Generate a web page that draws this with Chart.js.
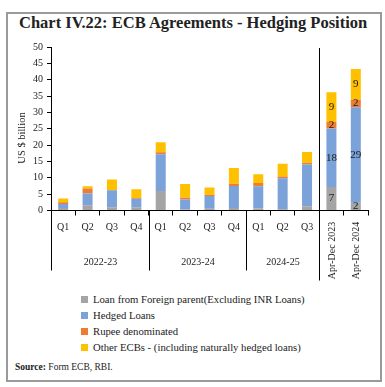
<!DOCTYPE html>
<html lang="en">
<head>
<meta charset="UTF-8">
<title>Chart IV.22: ECB Agreements - Hedging Position</title>
<script src="https://cdn.jsdelivr.net/npm/chart.js"></script>
<style>
    body {
        margin: 0;
        width: 385px;
        height: 387px;
        position: relative;
        background: #fff;
        font-family: "Liberation Serif", serif;
        color: #222;
    }
    #frame {
        position: absolute;
        left: 6px; top: 12px;
        width: 372px; height: 366px;
        border: 2px solid #9a9a9a;
    }
    #title {
        position: absolute;
        left: 19px; top: 13px;
        font-size: 16.5px;
        font-weight: bold;
        white-space: nowrap;
    }
    #chartBox {
        position: absolute;
        left: 0; top: 0;
        width: 385px; height: 290px;
    }
    #legend {
        position: absolute;
        left: 81px; top: 291px;
        font-size: 10.7px;
    }
    #legend div {
        height: 16px;
        line-height: 16px;
        white-space: nowrap;
    }
    #legend span {
        display: inline-block;
        width: 7px; height: 7px;
        margin-right: 5px;
        vertical-align: 0px;
    }
    #source {
        position: absolute;
        left: 15px; top: 362px;
        font-size: 9.5px;
    }
</style>
</head>
<body>
<div id="frame"></div>
<div id="title">Chart IV.22: ECB Agreements - Hedging Position</div>
<div id="chartBox"><canvas id="hedgeChart"></canvas></div>
<div id="legend"></div>
<div id="source"><b>Source:</b> Form ECB, RBI.</div>
<script>
    // Datos (US $ billion)
    const categories = ['Q1', 'Q2', 'Q3', 'Q4', 'Q1', 'Q2', 'Q3', 'Q4', 'Q1', 'Q2', 'Q3', 'Apr-Dec 2023', 'Apr-Dec 2024'];
    const yearLabels = ['2022-23', '2023-24', '2024-25'];
    const yearSizes = [4, 4, 3];

    const seriesNames = [
        'Loan from Foreign parent(Excluding INR Loans)',
        'Hedged Loans',
        'Rupee denominated',
        'Other ECBs - (including naturally hedged loans)'
    ];
    const foreignParent = [0.8, 1.6, 1.0, 1.0, 6.0, 0.3, 0.5, 0.8, 0.6, 0.4, 1.3, 7.2, 2.4];
    const hedgedLoans   = [1.2, 3.6, 5.2, 2.6, 11.2, 3.1, 3.9, 6.7, 6.8, 9.5, 12.8, 17.9, 29.2];
    const rupeeDenom    = [0.5, 1.5, 0.1, 0.2, 0.6, 0.5, 0.4, 0.7, 1.0, 0.5, 0.5, 2.0, 2.3];
    const otherEcbs     = [1.2, 0.7, 3.2, 2.7, 3.1, 4.2, 2.2, 4.8, 2.7, 3.9, 3.3, 9.1, 9.4];

    const yTicks = { min: 0, max: 50, step: 5 };
    const colors = ['#a5a5a5', '#7ba2d9', '#ed7d31', '#ffc000'];
    const labelledFrom = 11; // solo las barras Apr-Dec llevan etiquetas

    const fontName = '"Liberation Serif", serif';
    const textColor = '#222';

    // Plugin para las etiquetas de grupo, separadores y valores
    const groupPlugin = {
        id: 'groupPlugin',
        afterDraw(chart) {
            const ctx = chart.ctx;
            const x = chart.scales.x;
            const y = chart.scales.y;
            const half = (x.getPixelForValue(1) - x.getPixelForValue(0)) / 2;
            const edge = i => Math.round(x.getPixelForValue(i) - half) + 0.5;
            const base = y.bottom;

            ctx.save();
            ctx.strokeStyle = '#000';
            ctx.lineWidth = 1;
            ctx.fillStyle = textColor;
            ctx.font = '10px ' + fontName;
            ctx.textAlign = 'center';
            ctx.textBaseline = 'middle';

            // separadores de anios
            let start = 0;
            ctx.beginPath();
            ctx.moveTo(edge(0), base);
            ctx.lineTo(edge(0), base + 60);
            yearSizes.forEach((n, k) => {
                const end = start + n;
                const mid = (edge(start) + edge(end)) / 2;
                ctx.fillText(yearLabels[k], mid, base + 52);
                if (k < yearSizes.length - 1) {
                    ctx.moveTo(edge(end), base);
                    ctx.lineTo(edge(end), base + 60);
                }
                start = end;
            });
            ctx.stroke();

            // separador vertical antes de Apr-Dec
            ctx.beginPath();
            ctx.moveTo(edge(start), chart.chartArea.top + 1);
            ctx.lineTo(edge(start), base + 70);
            ctx.stroke();

            // etiquetas verticales Apr-Dec
            for (let i = start; i < categories.length; i++) {
                ctx.save();
                ctx.translate(x.getPixelForValue(i) + 1, base + 40);
                ctx.rotate(-Math.PI / 2);
                ctx.fillText(categories[i], 0, 0);
                ctx.restore();
            }

            // titulo del eje Y
            ctx.save();
            ctx.font = '10.5px ' + fontName;
            ctx.translate(22, 138);
            ctx.rotate(-Math.PI / 2);
            ctx.fillText('US $ billion', 0, 0);
            ctx.restore();

            // valores dentro de las barras
            ctx.font = '11px ' + fontName;
            ctx.fillStyle = '#1a1a1a';
            chart.data.datasets.forEach((ds, d) => {
                const meta = chart.getDatasetMeta(d);
                meta.data.forEach((bar, i) => {
                    if (i < labelledFrom) return;
                    const v = Math.round(ds.data[i]);
                    ctx.fillText(String(v), bar.x, (bar.y + bar.base) / 2);
                });
            });
            ctx.restore();
        }
    };

    const dataSeries = [foreignParent, hedgedLoans, rupeeDenom, otherEcbs];

    const ctx = document.getElementById('hedgeChart').getContext('2d');
    const chart = new Chart(ctx, {
        type: 'bar',
        data: {
            labels: categories,
            datasets: dataSeries.map((vals, k) => ({
                label: seriesNames[k],
                data: vals,
                backgroundColor: colors[k],
                borderWidth: 0,
                barPercentage: 0.41,
                categoryPercentage: 1
            }))
        },
        options: {
            responsive: true,
            maintainAspectRatio: false,
            animation: false,
            layout: { padding: { left: 0, right: 17, top: 47, bottom: 0 } },
            plugins: {
                legend: { display: false },
                tooltip: { enabled: false }
            },
            scales: {
                x: {
                    stacked: true,
                    afterFit: s => { s.height = 79.5; },
                    border: { display: true, color: '#000' },
                    grid: { drawOnChartArea: false, drawTicks: true, tickLength: 5, color: '#000', offset: true },
                    ticks: {
                        autoSkip: false,
                        maxRotation: 0,
                        padding: 6,
                        color: textColor,
                        font: { family: fontName, size: 10 },
                        callback: (v, i) => i < labelledFrom ? categories[i] : ''
                    }
                },
                y: {
                    stacked: true,
                    min: yTicks.min,
                    max: yTicks.max,
                    afterFit: s => { s.width = 51; },
                    border: { display: true, color: '#000' },
                    grid: { drawOnChartArea: false, drawTicks: true, tickLength: 4, color: '#000' },
                    ticks: {
                        stepSize: yTicks.step,
                        padding: 4,
                        color: textColor,
                        font: { family: fontName, size: 10 }
                    }
                }
            }
        },
        plugins: [groupPlugin]
    });

    // Leyenda en HTML
    const legendBox = document.getElementById('legend');
    seriesNames.forEach((name, k) => {
        const row = document.createElement('div');
        row.innerHTML = '<span style="background:' + colors[k] + '"></span>' + name;
        legendBox.appendChild(row);
    });
</script>
</body>
</html>
